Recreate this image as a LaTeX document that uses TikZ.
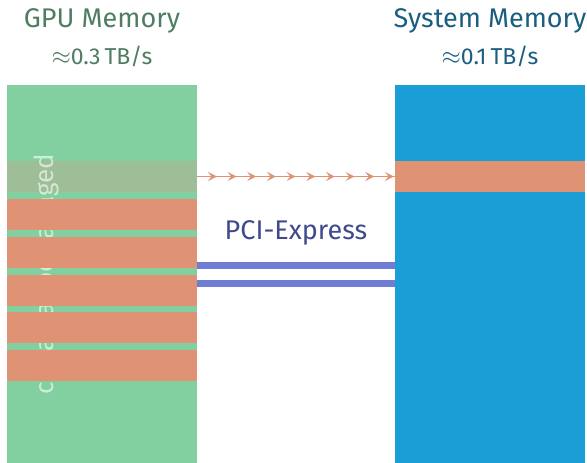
\documentclass[tikz,border=0pt]{standalone}
\usepackage{fontspec}
\setmainfont{Fira Sans}
\usetikzlibrary{arrows.meta,decorations.markings}
\definecolor{gpugreen}{HTML}{82D0A0}
\definecolor{sysblue}{HTML}{1B9ED6}
\definecolor{pageorange}{HTML}{DF9374}
\definecolor{bandgrey}{HTML}{9EBE98}
\definecolor{pcieblue}{HTML}{6F7ED4}
\definecolor{pcietext}{HTML}{3F4A8A}
\definecolor{gputext}{HTML}{4E7D62}
\definecolor{systext}{HTML}{1A5E80}
\tikzset{
  membox/.style={rectangle, inner sep=0pt, outer sep=0pt, anchor=north west,
    minimum width=190pt, minimum height=378pt},
  pagebox/.style={rectangle, inner sep=0pt, outer sep=0pt, anchor=north west,
    minimum width=190pt, minimum height=31pt, fill=pageorange},
  title/.style={anchor=base, inner sep=0pt, font=\fontsize{27}{32}\selectfont},
  rate/.style={anchor=base, inner sep=0pt, font=\fontsize{23}{27}\selectfont},
  bus/.style={line width=7pt, pcieblue},
  migrate/.style={line width=1.4pt, pageorange,
    postaction={decorate, decoration={markings,
      mark=between positions 0.101 and 1 step 0.0993 with
        {\arrow{Stealth[length=9pt,width=9pt,inset=3.5pt]}}}}}
}
\begin{document}
\begin{tikzpicture}[x=1pt,y=-1pt]
  \useasboundingbox (0,0) rectangle (587,463);

  % memory columns
  \node[membox, fill=gpugreen] (gpu) at (7,85) {};
  \node[membox, fill=sysblue] (sys) at (395,85) {};

  % page being migrated
  \node[pagebox, fill=bandgrey] (gpupage) at (7,161) {};
  \node[pagebox] (syspage) at (395,161) {};

  % allocation label running up the GPU column
  \node[rotate=90, anchor=base, inner sep=0pt, text=white, opacity=0.6,
        font=\fontsize{26}{30}\selectfont] (alloc) at (53,274) {cudaMallocManaged};

  % resident pages on the GPU
  \foreach \i/\y in {1/199, 2/236.75, 3/274.5, 4/312.25, 5/350}
    \node[pagebox] (gp\i) at (7,\y) {};

  % titles
  \node[title, text=gputext] (gputitle) at (102,27.3) {GPU Memory};
  \node[rate, text=gputext] (gpurate) at (102,64) {$\approx$0.3\,TB/s};
  \node[title, text=systext] (systitle) at (490,27.3) {System Memory};
  \node[rate, text=systext] (sysrate) at (490,64) {$\approx$0.1\,TB/s};

  % interconnect
  \coordinate (busL1) at (197,265.5);
  \coordinate (busR1) at (395,265.5);
  \coordinate (busL2) at (197,283.5);
  \coordinate (busR2) at (395,283.5);
  \draw[bus] (busL1) -- (busR1);
  \draw[bus] (busL2) -- (busR2);
  \node[anchor=base, inner sep=0pt, text=pcietext,
        font=\fontsize{27}{32}\selectfont] (pcie) at (296,239) {PCI-Express};

  % page migration
  \draw[migrate] (gpupage.east) -- (syspage.west);
\end{tikzpicture}
\end{document}
